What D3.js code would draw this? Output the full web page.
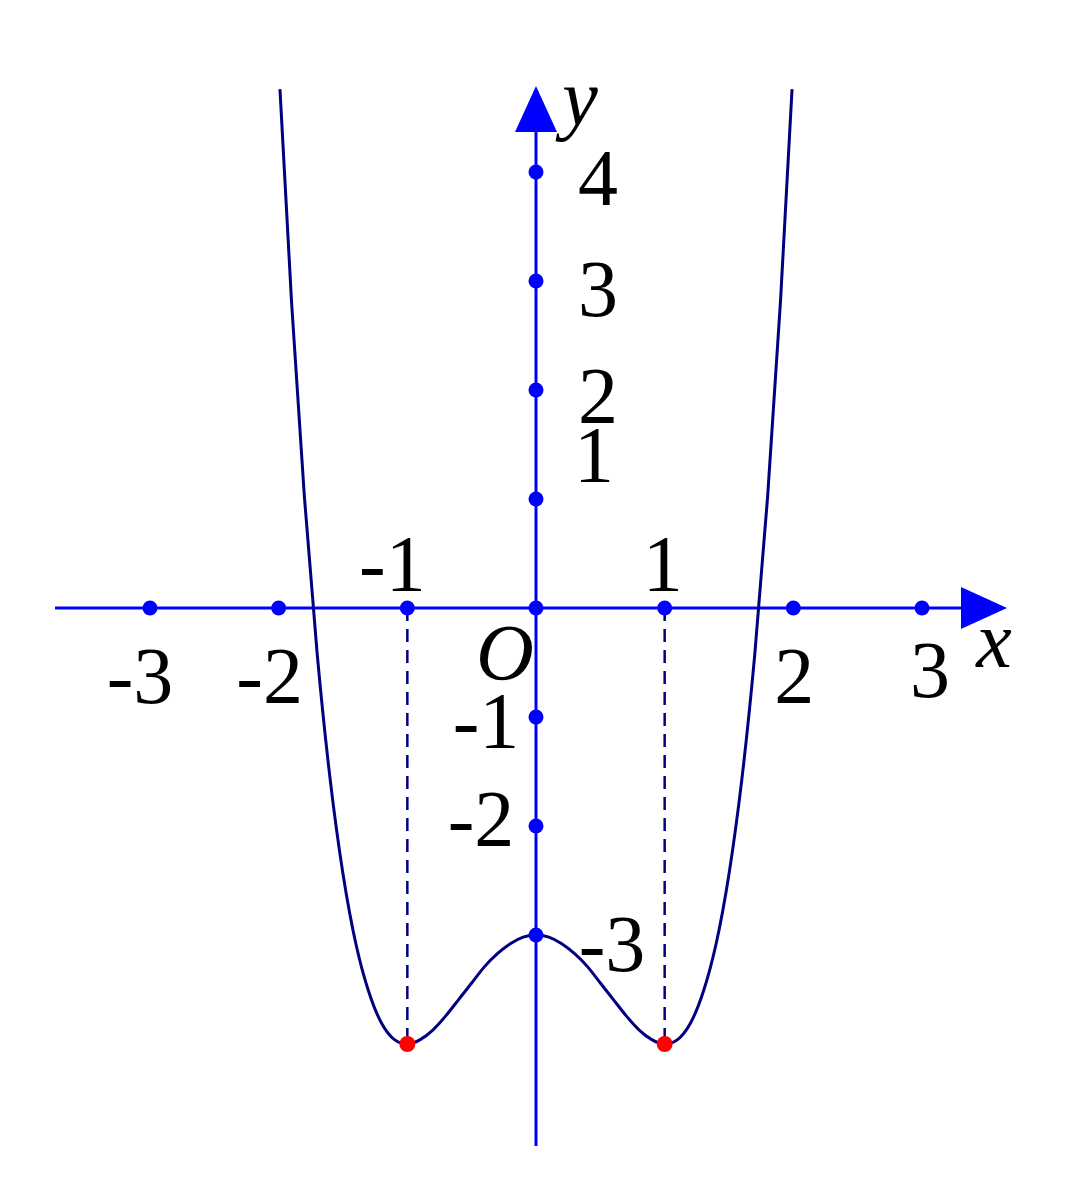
<!DOCTYPE html>
<html><head><meta charset="utf-8">
<script src="https://cdn.jsdelivr.net/npm/d3@7"></script>
<style>html,body{margin:0;padding:0;background:#fff;}svg{display:block;}</style>
</head><body>
<script>
// ---- data ----
const xTicks = [-3, -2, -1, 0, 1, 2, 3];
const yTicks = [-3, -2, -1, 1, 2, 3, 4];
const xTickLabels = ["-3", "-2", "-1", "1", "2", "3"];
const xTickLabelValues = [-3, -2, -1, 1, 2, 3];
const yTickLabels = ["-3", "-2", "-1", "1", "2", "3", "4"];
const yTickLabelValues = [-3, -2, -1, 1, 2, 3, 4];
const curveX = [-1.99, -1.9, -1.8, -1.7, -1.6, -1.5, -1.4, -1.3, -1.2, -1.1, -1.0, -0.9, -0.8, -0.7, -0.6, -0.5, -0.4, -0.3, -0.2, -0.1, 0,
                0.1, 0.2, 0.3, 0.4, 0.5, 0.6, 0.7, 0.8, 0.9, 1.0, 1.1, 1.2, 1.3, 1.4, 1.5, 1.6, 1.7, 1.8, 1.9, 1.99];
const curveY = [4.76, 2.81, 1.02, -0.43, -1.57, -2.44, -3.08, -3.52, -3.81, -3.96, -4.0, -3.96, -3.87, -3.74, -3.59, -3.44, -3.29, -3.17, -3.08, -3.02, -3.0,
                -3.02, -3.08, -3.17, -3.29, -3.44, -3.59, -3.74, -3.87, -3.96, -4.0, -3.96, -3.81, -3.52, -3.08, -2.44, -1.57, -0.43, 1.02, 2.81, 4.76];
const minimaX = [-1, 1];
const minimaY = [-4, -4];

// ---- layout ----
const W = 1083, H = 1200;
const x = d3.scaleLinear().domain([-3, 3]).range([150, 922]);
const y = d3.scaleLinear().domain([-4, 4]).range([1044, 172]);
const xLabelOffsets = [[-10, 95], [-9, 95], [-15, -17], [-2, -17], [1, 95], [8, 89]];
const yLabelOffsets = [[76, 36], [-55, 20], [-50, 31], [58, -17], [62, 33], [62, 35], [62, 33]];
const blue = "#0000ff", navy = "#000080";
const font = "'Liberation Serif','Times New Roman',serif";

const svg = d3.select("body").append("svg").attr("width", W).attr("height", H);

// dashed guides
svg.selectAll("line.guide").data(minimaX).join("line")
  .attr("x1", d => x(d)).attr("x2", d => x(d))
  .attr("y1", y(0)).attr("y2", (d, i) => y(minimaY[i]))
  .attr("stroke", navy).attr("stroke-width", 2.5).attr("stroke-dasharray", "13,8");

// axes
svg.append("line").attr("x1", 55).attr("x2", 965).attr("y1", y(0)).attr("y2", y(0))
  .attr("stroke", blue).attr("stroke-width", 3);
svg.append("line").attr("x1", x(0)).attr("x2", x(0)).attr("y1", 1146).attr("y2", 130)
  .attr("stroke", blue).attr("stroke-width", 3);
svg.append("path").attr("d", `M961,${y(0)-21} L1007,${y(0)} L961,${y(0)+21} Z`).attr("fill", blue);
svg.append("path").attr("d", `M${x(0)-21},132 L${x(0)},86 L${x(0)+21},132 Z`).attr("fill", blue);

// curve
const pts = curveX.map((v, i) => [v, curveY[i]]);
svg.append("path").datum(pts)
  .attr("d", d3.line().x(d => x(d[0])).y(d => y(d[1])).curve(d3.curveNatural))
  .attr("fill", "none").attr("stroke", navy).attr("stroke-width", 3);

// tick dots
svg.selectAll("circle.xt").data(xTicks).join("circle")
  .attr("cx", d => x(d)).attr("cy", y(0)).attr("r", 7.5).attr("fill", blue);
svg.selectAll("circle.yt").data(yTicks).join("circle")
  .attr("cx", x(0)).attr("cy", d => y(d)).attr("r", 7.5).attr("fill", blue);
svg.selectAll("circle.mn").data(minimaX).join("circle")
  .attr("cx", d => x(d)).attr("cy", (d, i) => y(minimaY[i])).attr("r", 8).attr("fill", "#ff0000");

// labels
const fs = 80;
svg.selectAll("text.xl").data(xTickLabels).join("text")
  .attr("x", (d, i) => x(xTickLabelValues[i]) + xLabelOffsets[i][0])
  .attr("y", (d, i) => y(0) + xLabelOffsets[i][1])
  .attr("text-anchor", "middle").attr("font-family", font).attr("font-size", fs).text(d => d);
svg.selectAll("text.yl").data(yTickLabels).join("text")
  .attr("x", (d, i) => x(0) + yLabelOffsets[i][0])
  .attr("y", (d, i) => y(yTickLabelValues[i]) + yLabelOffsets[i][1])
  .attr("text-anchor", "middle").attr("font-family", font).attr("font-size", fs).text(d => d);
svg.append("text").attr("x", 505).attr("y", 680).attr("text-anchor", "middle")
  .attr("font-family", font).attr("font-style", "italic").attr("font-size", fs).text("O");
svg.append("text").attr("x", 994).attr("y", 667).attr("text-anchor", "middle")
  .attr("font-family", font).attr("font-style", "italic").attr("font-size", fs).text("x");
svg.append("text").attr("x", 580).attr("y", 125).attr("text-anchor", "middle")
  .attr("font-family", font).attr("font-style", "italic").attr("font-size", fs).text("y");
</script>
</body></html>
